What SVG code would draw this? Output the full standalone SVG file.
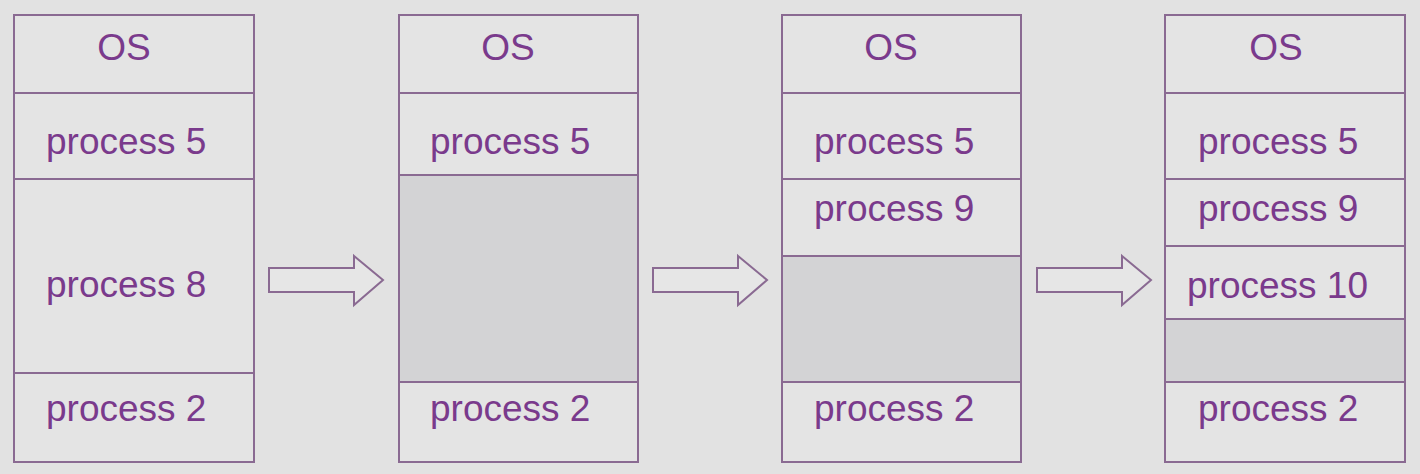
<svg xmlns="http://www.w3.org/2000/svg" width="1420" height="474" viewBox="0 0 1420 474">
<style>
.bg{fill:#e2e2e2}
.box{fill:#e4e4e4;stroke:#8a6a92;stroke-width:2}
.hole{fill:#d3d3d5;stroke:#8a6a92;stroke-width:2}
.div{stroke:#8a6a92;stroke-width:2}
.t{font-family:"Liberation Sans",Arial,sans-serif;font-size:37px;fill:#7a3a8c}
.arr{fill:#e6e6e6;stroke:#8a6a92;stroke-width:2;stroke-linejoin:miter}
</style>
<rect class="bg" x="0" y="0" width="1420" height="474"/>
<g id="mem1">
<rect class="box" x="14" y="15" width="240" height="447"/>
<line class="div" x1="14" y1="93" x2="254" y2="93"/>
<line class="div" x1="14" y1="179" x2="254" y2="179"/>
<line class="div" x1="14" y1="373" x2="254" y2="373"/>
<text class="t" x="124" y="60" text-anchor="middle">OS</text>
<text class="t" x="46" y="154">process 5</text>
<text class="t" x="46" y="297">process 8</text>
<text class="t" x="46" y="421">process 2</text>
</g>
<g id="mem2">
<rect class="box" x="399" y="15" width="239" height="447"/>
<rect class="hole" x="399" y="175" width="239" height="207"/>
<line class="div" x1="399" y1="93" x2="638" y2="93"/>
<text class="t" x="508" y="60" text-anchor="middle">OS</text>
<text class="t" x="430" y="154">process 5</text>
<text class="t" x="430" y="421">process 2</text>
</g>
<g id="mem3">
<rect class="box" x="782" y="15" width="239" height="447"/>
<rect class="hole" x="782" y="256" width="239" height="126"/>
<line class="div" x1="782" y1="93" x2="1021" y2="93"/>
<line class="div" x1="782" y1="179" x2="1021" y2="179"/>
<text class="t" x="891" y="60" text-anchor="middle">OS</text>
<text class="t" x="814" y="154">process 5</text>
<text class="t" x="814" y="221">process 9</text>
<text class="t" x="814" y="421">process 2</text>
</g>
<g id="mem4">
<rect class="box" x="1165" y="15" width="240" height="447"/>
<rect class="hole" x="1165" y="319" width="240" height="63"/>
<line class="div" x1="1165" y1="93" x2="1405" y2="93"/>
<line class="div" x1="1165" y1="179" x2="1405" y2="179"/>
<line class="div" x1="1165" y1="246" x2="1405" y2="246"/>
<text class="t" x="1276" y="60" text-anchor="middle">OS</text>
<text class="t" x="1198" y="154">process 5</text>
<text class="t" x="1198" y="221">process 9</text>
<text class="t" x="1187" y="298">process 10</text>
<text class="t" x="1198" y="421">process 2</text>
</g>
<g id="connectors">
<path class="arr" d="M269,268 H354 V256 L383,280 L354,305 V292 H269 Z"/>
<path class="arr" d="M653,268 H738 V256 L767,280 L738,305 V292 H653 Z"/>
<path class="arr" d="M1037,268 H1122 V256 L1151,280 L1122,305 V292 H1037 Z"/>
</g>
</svg>
